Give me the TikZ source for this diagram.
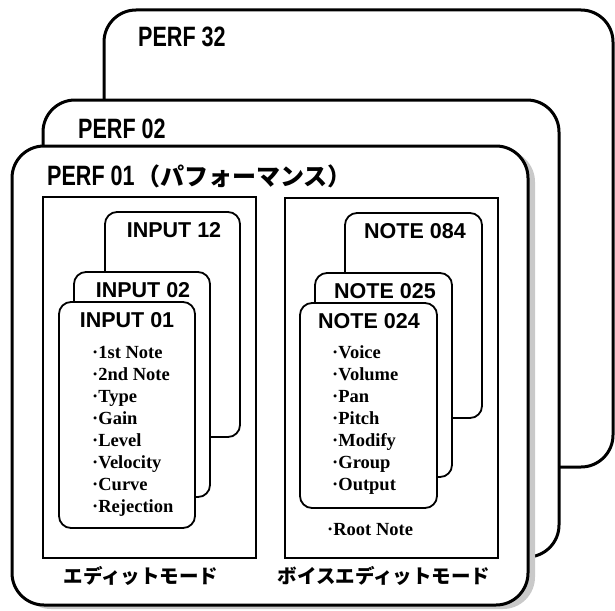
\documentclass[tikz,border=0pt]{standalone}
\usepackage{fontspec}
\usepackage{graphicx}
\setmainfont{Liberation Serif}
\setsansfont{Liberation Sans}
\newfontfamily\jpfont{Noto Sans CJK JP}
\begin{document}
\begin{tikzpicture}[x=1pt,y=-1pt,
  perfbox/.style={draw, line width=3pt, fill=white, rounded corners=32pt},
  modebox/.style={draw, line width=2pt, fill=white},
  subbox/.style={draw, line width=1.8pt, fill=white, rounded corners=12pt},
  perftitle/.style={anchor=base west, inner sep=0pt, font=\sffamily\bfseries\fontsize{28}{30}\selectfont},
  subtitle/.style={anchor=base, inner sep=0pt, font=\sffamily\bfseries\fontsize{21.5}{24}\selectfont},
  itemtext/.style={anchor=base west, inner sep=0pt, font=\rmfamily\bfseries\fontsize{18.5}{22}\selectfont},
  modelabel/.style={anchor=base, inner sep=0pt, font=\jpfont\bfseries\fontsize{19.5}{22}\selectfont},
]
\useasboundingbox (0,0) rectangle (615,610);
% stacked performance cards
\path[perfbox] (104,10) rectangle (613,467);
\path[perfbox] (43,100) rectangle (559,557);
\fill[gray!42, rounded corners=32pt] (19,150) rectangle (535,609);
\path[perfbox] (12,146) rectangle (528,605);
% mode rectangles
\path[modebox] (43,197) rectangle (256,558);
\path[modebox] (285,198) rectangle (498,558);
% input cards
\path[subbox] (105,212) rectangle (240,437);
\path[subbox] (74,272) rectangle (210,497);
\path[subbox] (59,302) rectangle (195,528);
% note cards
\path[subbox] (345,213) rectangle (482,418);
\path[subbox] (315,273) rectangle (452,477);
\path[subbox] (300,303) rectangle (437,508);
% titles
\node[perftitle] (t32) at (138,47) {\scalebox{0.77}[1]{PERF 32}};
\node[perftitle] (t02) at (78,138) {\scalebox{0.77}[1]{PERF 02}};
\node[perftitle] (t01) at (47,185) {\scalebox{0.77}[1]{PERF 01}};
\node[anchor=base west, inner sep=0pt, font=\jpfont\bfseries\fontsize{24}{26}\selectfont] (t01j) at (t01.base east) {\hspace{1pt}（パフォーマンス）};
\node[subtitle] (i12) at (174,237) {INPUT 12};
\node[subtitle] (i02) at (143,297) {INPUT 02};
\node[subtitle] (i01) at (127,327) {INPUT 01};
\node[subtitle] (n84) at (415,238) {NOTE 084};
\node[subtitle] (n25) at (385,298) {NOTE 025};
\node[subtitle] (n24) at (369,328) {NOTE 024};
% items
\foreach \t [count=\i] in {1st Note,2nd Note,Type,Gain,Level,Velocity,Curve,Rejection}
  \node[itemtext] (ia\i) at (92,{358+22*(\i-1)}) {·\t};
\foreach \t [count=\i] in {Voice,Volume,Pan,Pitch,Modify,Group,Output}
  \node[itemtext] (nb\i) at (332,{358+22*(\i-1)}) {·\t};
\node[itemtext] (root) at (327,535) {·Root Note};
% mode labels
\node[modelabel] (m1) at (141,583) {エディットモード};
\node[modelabel] (m2) at (384,583) {ボイスエディットモード};
\end{tikzpicture}
\end{document}
